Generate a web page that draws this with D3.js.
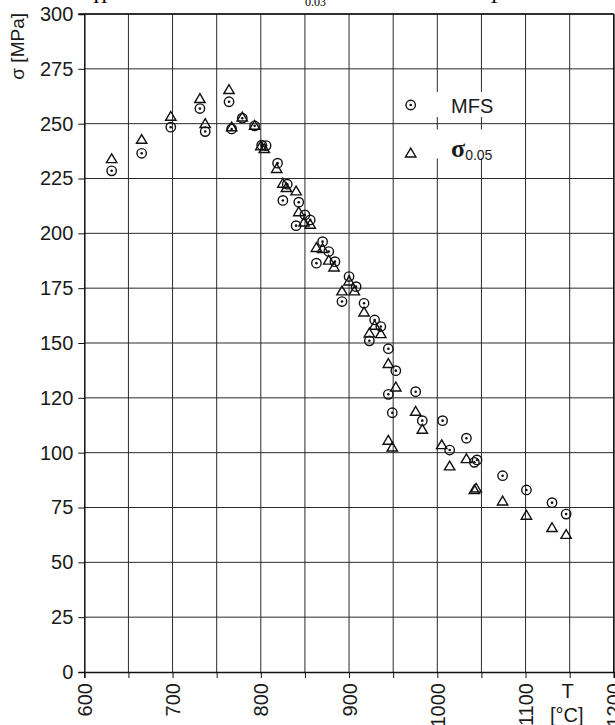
<!DOCTYPE html>
<html>
<head>
<meta charset="utf-8">
<script src="https://cdn.jsdelivr.net/npm/d3@7"></script>
<style>
  body { margin: 0; background: #fff; }
  svg { display: block; }
</style>
</head>
<body>
<svg id="chart"></svg>
<script>
// MFS points (circle with dot)
const mfsT = [631, 665, 698, 731, 737, 764, 767, 779, 793, 801, 806, 819, 830, 825, 843, 850, 856, 840,
  870, 877, 884, 863, 900, 908, 892, 917, 929, 936, 923, 944.5, 953, 944.5, 975.5, 949, 983, 1006,
  1033, 1014, 1042, 1045, 1074, 1101, 1130, 1146];
const mfsS = [228.5, 236.5, 248.4, 256.9, 246.4, 260, 247.6, 252.5, 249, 240.2, 240, 232, 222.4, 215, 214.2, 208.4, 206.1, 203.5,
  196.2, 191.7, 187.1, 186.4, 180.3, 175.7, 168.9, 168.1, 160.5, 157.5, 151, 147.4, 137.4, 126.6, 127.8, 118.2, 114.6, 114.6,
  106.6, 101.2, 95.6, 96.7, 89.5, 83, 77.2, 72];

// sigma 0.05 points (triangle)
const sigT = [631, 665, 698, 731, 737, 764, 767, 779, 793, 800, 804, 818, 825, 829, 840, 843, 849, 856,
  863, 870, 877, 883, 900, 906, 892, 917, 929, 936, 923, 944.5, 953, 975.5, 983, 944.5, 949, 1005,
  1014, 1033, 1042, 1044, 1074, 1101, 1130, 1146];
const sigS = [234.2, 243, 253.5, 261.6, 250.2, 265.7, 248.7, 253.2, 249.4, 240, 238.8, 229.7, 223, 221, 219.5, 210, 205.3, 204.3,
  193.7, 193.2, 187.9, 184.8, 178.4, 173.9, 173.9, 164.3, 158.2, 154.4, 154.7, 140.8, 130.1, 119, 110.8, 105.8, 102.7, 103.8,
  94.1, 97.4, 83.3, 84, 78.1, 71.6, 66, 62.9];

const xTicks = d3.range(600, 1201, 50);
const xTickLabels = ['600', '', '700', '', '800', '', '900', '', '1000', '', '1100', '', '1200'];
const yTicks = d3.range(0, 301, 25);
const yTickLabels = ['0', '25', '50', '75', '100', '120', '150', '175', '200', '225', '250', '275', '300'];

const W = 615, H = 725;
const plotL = 84.3, plotR = 613.8, plotT = 14, plotB = 672;
const sans = '"Liberation Sans", Arial, sans-serif';
const serif = '"Liberation Serif", "Times New Roman", serif';

let svg = d3.select('#chart').attr('width', W).attr('height', H);

let x = d3.scaleLinear().domain([600, 1200]).range([plotL, plotR]);
let y = d3.scaleLinear().domain([0, 300]).range([plotB, plotT]);

// cut-off caption above the chart
svg.append('text').attr('x', 93).attr('y', 3).style('font-family', serif).style('font-size', '20px').text('П');
svg.append('text').attr('x', 305).attr('y', 5.5).style('font-family', serif).style('font-size', '12px').text('0.03');
svg.append('text').attr('x', 494).attr('y', 3).attr('text-anchor', 'middle').style('font-family', serif).style('font-size', '20px').text('T');

// grid
svg.append('g').selectAll('line')
    .data(xTicks.slice(1))
    .enter().append('line')
    .attr('x1', d => x(d)).attr('x2', d => x(d))
    .attr('y1', plotT).attr('y2', plotB)
    .attr('stroke', '#2a2a2a').attr('stroke-width', 1);
svg.append('g').selectAll('line')
    .data(yTicks.slice(1))
    .enter().append('line')
    .attr('x1', plotL).attr('x2', plotR)
    .attr('y1', d => y(d)).attr('y2', d => y(d))
    .attr('stroke', '#2a2a2a').attr('stroke-width', 1);

// legend backgrounds (they hide the grid behind the text)
svg.append('rect').attr('x', 435).attr('y', 92).attr('width', 68).attr('height', 25).attr('fill', '#fff');
svg.append('rect').attr('x', 435).attr('y', 129.5).attr('width', 68).attr('height', 29).attr('fill', '#fff');

// axes
let yAxis = d3.axisLeft(y).tickValues(yTicks).tickSize(6).tickPadding(5)
    .tickFormat((d, i) => yTickLabels[i]);
let gy = svg.append('g').attr('transform', 'translate(' + plotL + ',0)').call(yAxis);
gy.select('.domain').attr('stroke', '#111').attr('stroke-width', 1.5);
gy.selectAll('.tick line').attr('stroke', '#111');
gy.selectAll('.tick text').style('font-family', sans).style('font-size', '20px').attr('fill', '#1a1a1a');

let xAxis = d3.axisBottom(x).tickValues(xTicks).tickSize(6).tickPadding(0)
    .tickFormat((d, i) => xTickLabels[i]);
let gx = svg.append('g').attr('transform', 'translate(0,' + plotB + ')').call(xAxis);
gx.select('.domain').attr('stroke', '#111').attr('stroke-width', 1.5);
gx.selectAll('.tick line').attr('stroke', '#111');
gx.selectAll('.tick text')
    .style('font-family', sans).style('font-size', '20px').attr('fill', '#1a1a1a')
    .attr('text-anchor', 'end').attr('dy', '0.35em')
    .attr('transform', 'translate(0,11) rotate(-90)')
    .attr('x', 0).attr('y', 0);

// frame top and right
svg.append('line').attr('x1', plotL - 6).attr('x2', plotR).attr('y1', plotT).attr('y2', plotT)
    .attr('stroke', '#111').attr('stroke-width', 1.5);
svg.append('line').attr('x1', plotR).attr('x2', plotR).attr('y1', plotT).attr('y2', plotB)
    .attr('stroke', '#111').attr('stroke-width', 1.5);

// axis titles
svg.append('text')
    .attr('transform', 'translate(24,13) rotate(-90)')
    .attr('text-anchor', 'end')
    .style('font-family', sans).style('font-size', '19px').attr('fill', '#1a1a1a')
    .text('σ [MPa]');
svg.append('text').attr('x', x(1150) - 2).attr('y', 698).attr('text-anchor', 'middle')
    .style('font-family', sans).style('font-size', '20px').attr('fill', '#1a1a1a').text('T');
svg.append('text').attr('x', x(1150) - 3).attr('y', 722).attr('text-anchor', 'middle')
    .style('font-family', sans).style('font-size', '20px').attr('fill', '#1a1a1a').text('[°C]');

// markers
const triPath = 'M0,-4.5L5.2,4.3L-5.2,4.3Z';
let mfs = mfsT.map((t, i) => ({t: t, s: mfsS[i]}));
let sig = sigT.map((t, i) => ({t: t, s: sigS[i]}));

svg.append('g').selectAll('path')
    .data(sig)
    .enter().append('path')
    .attr('d', triPath)
    .attr('transform', d => 'translate(' + x(d.t) + ',' + y(d.s) + ')')
    .attr('fill', 'none').attr('stroke', '#111').attr('stroke-width', 1.4);

let mg = svg.append('g').selectAll('g')
    .data(mfs)
    .enter().append('g')
    .attr('transform', d => 'translate(' + x(d.t) + ',' + y(d.s) + ')');
mg.append('circle').attr('r', 4.7).attr('fill', 'none').attr('stroke', '#111').attr('stroke-width', 1.4);
mg.append('circle').attr('r', 1.3).attr('fill', '#111');

// legend
let lg = svg.append('g');
lg.append('circle').attr('cx', 410.7).attr('cy', 105).attr('r', 4.7)
    .attr('fill', 'none').attr('stroke', '#111').attr('stroke-width', 1.4);
lg.append('circle').attr('cx', 410.7).attr('cy', 105).attr('r', 1.3).attr('fill', '#111');
lg.append('text').attr('x', 451).attr('y', 112.5)
    .style('font-family', sans).style('font-size', '20px').attr('fill', '#1a1a1a').text('MFS');
lg.append('path').attr('d', triPath).attr('transform', 'translate(410.7,152.7)')
    .attr('fill', 'none').attr('stroke', '#111').attr('stroke-width', 1.4);
let st = lg.append('text').attr('x', 451).attr('y', 157)
    .style('font-family', serif).style('font-size', '26px').style('font-weight', 'bold').attr('fill', '#1a1a1a');
st.append('tspan').text('σ');
st.append('tspan').attr('dy', 3).style('font-family', sans).style('font-size', '14px').style('font-weight', 'normal').text('0.05');
</script>
</body>
</html>
